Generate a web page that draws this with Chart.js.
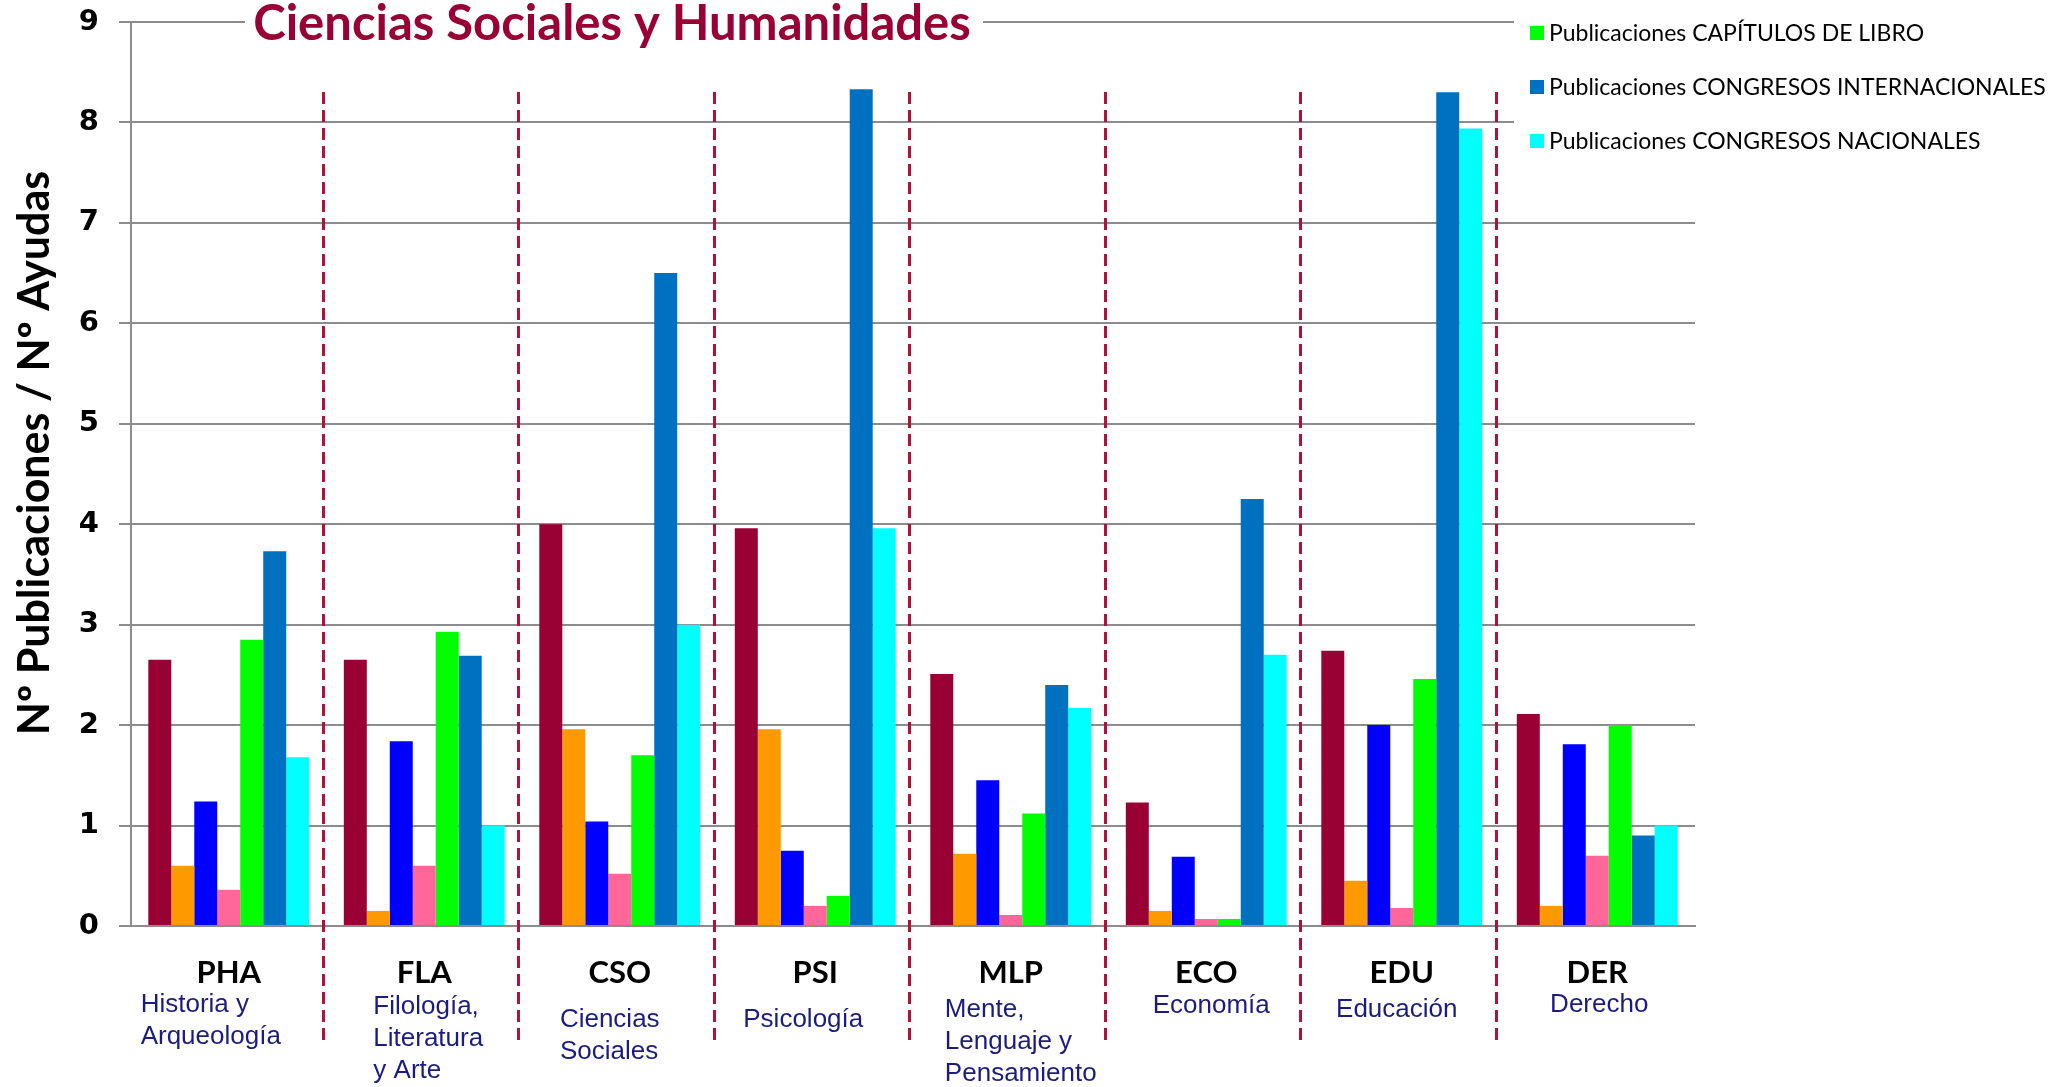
<!DOCTYPE html>
<html>
<head>
<meta charset="utf-8">
<script src="https://cdn.jsdelivr.net/npm/chart.js@4.4.1/dist/chart.umd.min.js"></script>
<style>
  html, body { margin: 0; padding: 0; background: #fff; }
  #wrap { width: 2051px; height: 1087px; }
</style>
</head>
<body>
<div id="wrap"><canvas id="chart" width="2051" height="1087"></canvas></div>
<script>
// categories and their descriptions
const categories = ['PHA', 'FLA', 'CSO', 'PSI', 'MLP', 'ECO', 'EDU', 'DER']
const descriptions = [
  ['Historia y', 'Arqueología'],
  ['Filología,', 'Literatura', 'y Arte'],
  ['Ciencias', 'Sociales'],
  ['Psicología'],
  ['Mente,', 'Lenguaje y', 'Pensamiento'],
  ['Economía'],
  ['Educación'],
  ['Derecho']
]

// series values (Nº publicaciones / Nº ayudas)
const serieA = [2.65, 2.65, 4.00, 3.96, 2.51, 1.23, 2.74, 2.11]
const serieB = [0.60, 0.15, 1.96, 1.96, 0.72, 0.15, 0.45, 0.20]
const serieC = [1.24, 1.84, 1.04, 0.75, 1.45, 0.69, 2.00, 1.81]
const serieD = [0.36, 0.60, 0.52, 0.20, 0.11, 0.07, 0.18, 0.70]
const capitulosLibro = [2.85, 2.93, 1.70, 0.30, 1.12, 0.07, 2.46, 2.00]
const congresosInternacionales = [3.73, 2.69, 6.50, 8.33, 2.40, 4.25, 8.30, 0.90]
const congresosNacionales = [1.68, 1.00, 3.00, 3.96, 2.17, 2.70, 7.94, 1.00]

const yTicks = [0, 1, 2, 3, 4, 5, 6, 7, 8, 9]

const chartTitle = 'Ciencias Sociales y Humanidades'
const yTitle = 'Nº Publicaciones / Nº Ayudas'

// small nudges for the description blocks (layout only)
const descDx = [-18, 4, -10, -12, 10, 5, -5, 2]
const descDy = [0, 2, 15, 15, 5, 1, 5, 0]

const datasets = [
  { label: 'Serie 1', data: serieA, backgroundColor: '#990033', legend: false },
  { label: 'Serie 2', data: serieB, backgroundColor: '#FF9900', legend: false },
  { label: 'Serie 3', data: serieC, backgroundColor: '#0000FF', legend: false },
  { label: 'Serie 4', data: serieD, backgroundColor: '#FF6699', legend: false },
  { label: 'Publicaciones CAPÍTULOS DE LIBRO', data: capitulosLibro, backgroundColor: '#00FF00', legend: true },
  { label: 'Publicaciones CONGRESOS INTERNACIONALES', data: congresosInternacionales, backgroundColor: '#0070C0', legend: true },
  { label: 'Publicaciones CONGRESOS NACIONALES', data: congresosNacionales, backgroundColor: '#00FFFF', legend: true }
]

const decor = {
  id: 'decor',
  afterDraw (chart) {
    const ctx = chart.ctx
    const x = chart.scales.x
    ctx.save()

    // white box behind the title, over the top gridline
    ctx.fillStyle = '#fff'
    ctx.fillRect(245, 0, 738, 52)
    ctx.fillStyle = '#990033'
    ctx.font = 'bold 49px Lato'
    ctx.textAlign = 'center'
    ctx.textBaseline = 'middle'
    ctx.fillText(chartTitle, 612, 24)

    // legend box
    ctx.fillStyle = '#fff'
    ctx.fillRect(1514, 0, 537, 165)
    ctx.font = '23px Lato'
    ctx.textAlign = 'left'
    let ly = 33
    chart.data.datasets.forEach(ds => {
      if (!ds.legend) return
      ctx.fillStyle = ds.backgroundColor
      ctx.fillRect(1530, ly - 7, 14, 14)
      ctx.fillStyle = '#000'
      ctx.fillText(ds.label, 1549, ly + 1)
      ly += 54
    })

    // y axis title
    ctx.save()
    ctx.translate(35, 453)
    ctx.rotate(-Math.PI / 2)
    ctx.font = 'bold 43px Lato'
    ctx.textAlign = 'center'
    ctx.fillStyle = '#000'
    ctx.fillText(yTitle, 0, 0)
    ctx.restore()

    // dashed separators between groups
    ctx.strokeStyle = '#B0123C'
    ctx.lineWidth = 3
    ctx.setLineDash([12, 6])
    for (let i = 0; i < categories.length - 1; i++) {
      const px = Math.round((x.getPixelForValue(i) + x.getPixelForValue(i + 1)) / 2) - 3.5
      ctx.beginPath()
      ctx.moveTo(px, 92)
      ctx.lineTo(px, 1046)
      ctx.stroke()
    }
    ctx.setLineDash([])

    // descriptions under the codes
    ctx.font = '26px "Liberation Sans", Arial'
    ctx.fillStyle = '#1c1c7c'
    ctx.textAlign = 'left'
    descriptions.forEach((lines, i) => {
      let w = 0
      lines.forEach(l => { w = Math.max(w, ctx.measureText(l).width) })
      const left = x.getPixelForValue(i) - w / 2 + descDx[i]
      lines.forEach((l, j) => {
        ctx.fillText(l, left, 1005 + descDy[i] + j * 32)
      })
    })
    ctx.restore()
  }
}

new Chart(document.getElementById('chart'), {
  type: 'bar',
  data: {
    labels: categories,
    datasets: datasets.map(ds => ({
      label: ds.label,
      data: ds.data,
      backgroundColor: ds.backgroundColor,
      legend: ds.legend,
      borderWidth: 0,
      categoryPercentage: 0.823,
      barPercentage: 1.0
    }))
  },
  options: {
    responsive: false,
    animation: false,
    devicePixelRatio: 1,
    layout: {
      padding: { top: 22, right: 356, bottom: 0, left: 0 }
    },
    plugins: {
      legend: { display: false },
      title: { display: false },
      tooltip: { enabled: false }
    },
    scales: {
      x: {
        grid: { display: false, drawTicks: false },
        border: { display: true, color: '#8C8C8C', width: 2 },
        ticks: {
          color: '#000',
          font: { family: 'Lato', weight: 'bold', size: 31 },
          padding: 28
        },
        afterFit (scale) { scale.height = 161 }
      },
      y: {
        min: 0,
        max: 9,
        afterBuildTicks (scale) { scale.ticks = yTicks.map(v => ({ value: v })) },
        grid: { color: '#8C8C8C', lineWidth: 2, tickLength: 12, drawTicks: true },
        border: { display: true, color: '#8C8C8C', width: 2 },
        ticks: {
          color: '#000',
          font: { family: 'DejaVu Sans', weight: 'bold', size: 29 },
          padding: 20
        },
        afterFit (scale) {
          scale.width = 131
          scale.paddingTop = 0
          scale.paddingBottom = 0
        }
      }
    }
  },
  plugins: [decor]
})
</script>
</body>
</html>
